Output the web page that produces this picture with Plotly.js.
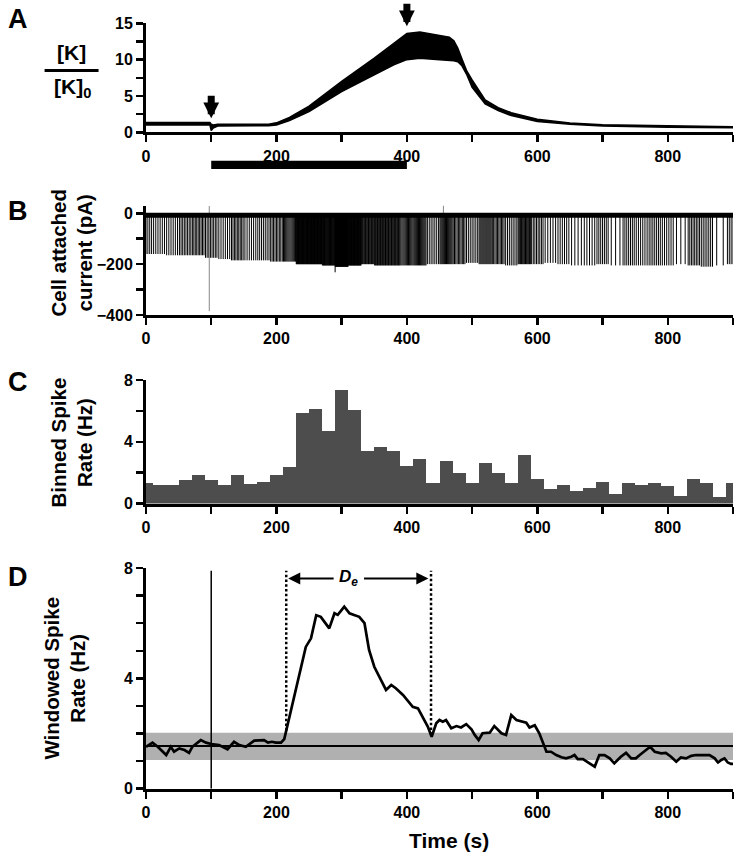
<!DOCTYPE html>
<html>
<head>
<meta charset="utf-8">
<script src="https://cdn.plot.ly/plotly-3.0.1.min.js"></script>
<style>html,body{margin:0;padding:0;background:#fff;}#chart{width:739px;height:858px;}</style>
</head>
<body>
<div id="chart"></div>
<script>
// ---------- DATA ----------
// Panel A: [K]/[K]0 envelope (upper / lower edges of oscillating trace)
const kTime  = [0, 98, 100, 103, 110, 150, 188, 200, 220, 250, 300, 350, 380, 400, 420, 450, 465, 472, 478, 484, 492, 500, 520, 540, 560, 600, 650, 700, 800, 900];
const kUpper = [1.35, 1.35, 1.1, 1.0, 1.1, 1.1, 1.1, 1.3, 2.06, 3.6, 7.0, 10.2, 12.2, 13.6, 13.8, 13.4, 13.1, 12.6, 11.6, 10.2, 8.4, 7.2, 4.45, 3.4, 2.7, 1.8, 1.28, 1.05, 0.87, 0.78];
const kLower = [1.0, 1.0, 0.25, 0.6, 0.85, 0.85, 0.9, 1.0, 1.6, 2.85, 5.6, 7.9, 9.3, 10.0, 10.2, 10.0, 9.95, 9.85, 9.7, 9.2, 7.9, 6.2, 3.9, 3.0, 2.3, 1.5, 1.1, 0.87, 0.7, 0.64];
const arrowTimesA = [100, 400];
const arrowTipsA  = [1.93, 14.6];
const stimStart = 100, stimEnd = 400;

// Panel C: binned spike rate (20 s bins, centres)
const binCenter = [0,20,40,60,80,100,120,140,160,180,200,220,240,260,280,300,320,340,360,380,400,420,440,460,480,500,520,540,560,580,600,620,640,660,680,700,720,740,760,780,800,820,840,860,880,900];
const binRate   = [1.35,1.2,1.2,1.52,1.85,1.52,1.2,1.85,1.26,1.41,1.85,2.39,5.87,6.09,4.7,7.35,6.04,3.39,3.65,3.43,2.43,2.87,1.3,2.78,1.96,1.3,2.65,2.0,1.35,3.13,1.57,0.96,1.17,0.78,1.0,1.39,0.6,1.35,1.2,1.35,1.15,0.5,1.57,1.35,0.4,1.3];
const binWidth = 20;

// Panel B: cell attached current, spike depth per bin (pA)
const spikeDepth = [-160,-160,-165,-165,-165,-175,-180,-185,-185,-185,-190,-190,-200,-200,-205,-210,-205,-200,-205,-205,-205,-205,-200,-200,-200,-195,-200,-200,-205,-200,-200,-195,-200,-205,-205,-200,-205,-205,-205,-205,-205,-200,-205,-210,-205,-200];
const spikesPerBurst = 4;   // spikes fired together appear as one line
const baselineCurrent = -8;
const artifactTime = 97, artifactTop = 29, artifactBottom = -385;
const smallArtifactTime = 456, smallArtifactTop = 32;
const deepSpikeTime = 290, deepSpikeDepth = -232;

// Panel D: windowed spike rate
const winTime = [0,10,18,31,38,43,51,59,66,71,
  84,92,100,112,125,135,143,153,166,181,
  187,193,199,207,212,215,222,230,238,245,
  253,261,268,281,289,294,304,312,319,327,
  335,342,350,358,368,376,383,394,401,409,
  417,424,432,438,445,450,455,460,468,476,
  483,491,499,504,510,516,527,534,545,552,
  560,568,575,583,588,596,603,609,614,621,
  629,637,644,652,657,662,670,680,688,695,
  703,711,718,728,736,744,751,757,764,773,
  780,790,797,805,813,820,828,836,843,851,
  864,872,877,882,887,892,897,900];
const winRate = [1.52,1.67,1.52,1.22,1.52,1.34,1.46,1.40,1.30,1.52,
  1.76,1.67,1.62,1.58,1.43,1.70,1.58,1.52,1.74,1.76,
  1.67,1.70,1.67,1.67,1.80,2.10,2.80,3.70,4.42,5.14,
  5.45,6.29,6.23,5.81,6.36,6.30,6.60,6.36,6.30,6.23,
  6.00,5.03,4.42,4.06,3.58,3.76,3.64,3.40,3.21,2.97,
  2.91,2.61,2.25,1.88,2.37,2.49,2.43,2.49,2.19,2.27,
  2.22,2.34,2.15,1.95,1.76,2.01,2.03,2.27,2.01,1.95,
  2.67,2.49,2.43,2.39,2.22,2.30,2.01,1.64,1.34,1.34,
  1.22,1.14,1.10,1.16,1.22,1.07,1.07,0.92,0.80,1.22,
  1.22,1.10,0.92,1.16,1.30,1.10,1.10,1.22,1.34,1.52,
  1.34,1.28,1.30,1.16,0.98,1.13,1.10,1.19,1.22,1.22,
  1.22,1.10,0.95,1.04,1.10,0.95,0.90,0.90];
const baselineRate = 1.55, bandLow = 1.04, bandHigh = 2.03;
const markerTime = 100, markerTop = 7.9;
const deStart = 215, deEnd = 437, deStartRate = 2.1, deEndRate = 1.95, deLevel = 7.62;

// ---------- LAYOUT HELPERS ----------
const W = 739, H = 858, ML = 145.5, MR = 6;
const px = X => (X - ML) / (W - ML - MR);
const py = Y => 1 - Y / H;
const F = 'Liberation Sans, Arial, sans-serif';

function xAxis(anchor) {
  return {domain:[0,1], anchor:anchor, range:[0,900], showline:true, linewidth:3, linecolor:'#000',
    ticks:'outside', ticklen:7, tickwidth:2.5, tickcolor:'#000', tick0:0, dtick:200,
    minor:{dtick:100, ticks:'outside', ticklen:7, tickwidth:2.5, tickcolor:'#000', showgrid:false},
    showgrid:false, zeroline:false, fixedrange:true,
    tickfont:{family:F, size:16, weight:'bold', color:'#000'}};
}
function yAxis(anchor, top, bottom, range, dtick, minor) {
  return {domain:[py(bottom), py(top)], anchor:anchor, range:range, showline:true, linewidth:3, linecolor:'#000',
    ticks:'outside', ticklen:7, tickwidth:2.5, tickcolor:'#000', tick0:0, dtick:dtick,
    minor:{dtick:minor, ticks:'outside', ticklen:7, tickwidth:2.5, tickcolor:'#000', showgrid:false},
    showgrid:false, zeroline:false, fixedrange:true,
    tickfont:{family:F, size:16, weight:'bold', color:'#000'}};
}

// ---------- TRACES ----------
const traces = [];
// A
traces.push({x:kTime, y:kLower, xaxis:'x', yaxis:'y', mode:'lines', line:{color:'#000', width:1.5}, hoverinfo:'skip'});
traces.push({x:kTime, y:kUpper, xaxis:'x', yaxis:'y', mode:'lines', fill:'tonexty', fillcolor:'#000', line:{color:'#000', width:1.5}, hoverinfo:'skip'});

// B spikes (one drawn line per burst of spikes, count from the binned rate)
const sx = [], sy = [];
binCenter.forEach((c, i) => {
  const n = Math.max(1, Math.round(binRate[i] * binWidth / spikesPerBurst));
  const start = c - binWidth / 2;
  for (let k = 0; k < n; k++) {
    const t = start + (k + 0.5) * binWidth / n;
    if (t < 0 || t > 900) continue;
    sx.push(t, t, null);
    sy.push(baselineCurrent, spikeDepth[i], null);
  }
});
sx.push(deepSpikeTime, deepSpikeTime, null); sy.push(baselineCurrent, deepSpikeDepth, null);
traces.push({x:sx, y:sy, xaxis:'x2', yaxis:'y2', mode:'lines', line:{color:'#000', width:1}, hoverinfo:'skip'});
traces.push({x:[artifactTime, artifactTime, null, smallArtifactTime, smallArtifactTime], y:[artifactTop, artifactBottom, null, smallArtifactTop, baselineCurrent], xaxis:'x2', yaxis:'y2', mode:'lines', line:{color:'#888', width:1}, hoverinfo:'skip'});
traces.push({x:[0, 900], y:[baselineCurrent, baselineCurrent], xaxis:'x2', yaxis:'y2', mode:'lines', line:{color:'#000', width:5}, hoverinfo:'skip'});

// C
traces.push({type:'bar', x:binCenter, y:binRate, width:binWidth, xaxis:'x3', yaxis:'y3', marker:{color:'#4d4d4d', line:{width:0}}, hoverinfo:'skip'});

// D
traces.push({x:winTime, y:winRate, xaxis:'x4', yaxis:'y4', mode:'lines', line:{color:'#000', width:2.7}, hoverinfo:'skip'});

// ---------- SHAPES ----------
const shapes = [
  {type:'rect', xref:'x', yref:'paper', x0:stimStart, x1:stimEnd, y0:py(169), y1:py(160.7), fillcolor:'#000', line:{width:0}},
  {type:'line', xref:'paper', yref:'paper', x0:px(44), x1:px(98), y0:py(70.5), y1:py(70.5), line:{color:'#000', width:3}},
  {type:'rect', xref:'x4', yref:'y4', x0:0, x1:900, y0:bandLow, y1:bandHigh, fillcolor:'#b0b0b0', line:{width:0}, layer:'below'},
  {type:'line', xref:'x4', yref:'y4', x0:0, x1:900, y0:baselineRate, y1:baselineRate, line:{color:'#000', width:2}},
  {type:'line', xref:'x4', yref:'y4', x0:markerTime, x1:markerTime, y0:0, y1:markerTop, line:{color:'#000', width:1.5}},
  {type:'line', xref:'x4', yref:'y4', x0:deStart, x1:deStart, y0:deStartRate, y1:markerTop, line:{color:'#000', width:2.5, dash:'2.5px,2.3px'}},
  {type:'line', xref:'x4', yref:'y4', x0:deEnd, x1:deEnd, y0:deEndRate, y1:markerTop, line:{color:'#000', width:2.5, dash:'2.5px,2.3px'}}
];

// ---------- ANNOTATIONS ----------
const ann = [];
const txt = (t, X, Y, size, extra) => Object.assign({text:t, xref:'paper', yref:'paper', x:px(X), y:py(Y), showarrow:false, font:{family:F, size:size, color:'#000'}, xanchor:'center', yanchor:'middle'}, extra || {});
ann.push(txt('<b>A</b>', 17, 19, 27), txt('<b>B</b>', 17, 211, 27), txt('<b>C</b>', 17, 382, 27), txt('<b>D</b>', 17, 577, 27));
ann.push(txt('<b>Cell attached<br>current (pA)</b>', 71, 253, 20.5, {textangle:-90}));
ann.push(txt('<b>Binned Spike<br>Rate (Hz)</b>', 71, 443, 20.5, {textangle:-90}));
ann.push(txt('<b>Windowed Spike<br>Rate (Hz)</b>', 64, 678, 20.5, {textangle:-90}));
ann.push(txt('<b>[K]</b>', 71, 53, 21));
ann.push(txt('<b>[K]<sub>0</sub></b>', 72, 88, 21));
ann.push(txt('<b>Time (s)</b>', 449, 840, 21));
arrowTimesA.forEach((t, i) => ann.push({x:t, y:arrowTipsA[i], xref:'x', yref:'y', ax:0, ay:-24, text:'', showarrow:true, arrowhead:2, arrowsize:0.45, arrowwidth:7, arrowcolor:'#000'}));
ann.push({x:deStart + 3, y:deLevel, ax:290, ay:deLevel, xref:'x4', yref:'y4', axref:'x4', ayref:'y4', text:'', showarrow:true, arrowhead:2, arrowsize:1.1, arrowwidth:2.2, arrowcolor:'#000'});
ann.push({x:deEnd - 4, y:deLevel, ax:332, ay:deLevel, xref:'x4', yref:'y4', axref:'x4', ayref:'y4', text:'', showarrow:true, arrowhead:2, arrowsize:1.1, arrowwidth:2.2, arrowcolor:'#000'});
ann.push({x:311, y:deLevel, xref:'x4', yref:'y4', text:'<b><i>D</i><sub><i>e</i></sub></b>', showarrow:false, font:{family:F, size:17, color:'#000'}});

const layout = {
  width:W, height:H, margin:{l:ML, r:MR, t:0, b:0}, showlegend:false,
  paper_bgcolor:'#fff', plot_bgcolor:'#fff', bargap:0,
  xaxis: xAxis('y'), yaxis: yAxis('x', 23.3, 132.3, [0,15], 5, 2.5),
  xaxis2: xAxis('y2'), yaxis2: yAxis('x2', 205.7, 315, [-400,30], 200, 100),
  xaxis3: xAxis('y3'), yaxis3: yAxis('x3', 380, 503.5, [0,8], 4, 2),
  xaxis4: xAxis('y4'), yaxis4: yAxis('x4', 568, 788.7, [0,8], 4, 1),
  shapes:shapes, annotations:ann
};
Plotly.newPlot('chart', traces, layout, {staticPlot:true, displayModeBar:false});
</script>
</body>
</html>
